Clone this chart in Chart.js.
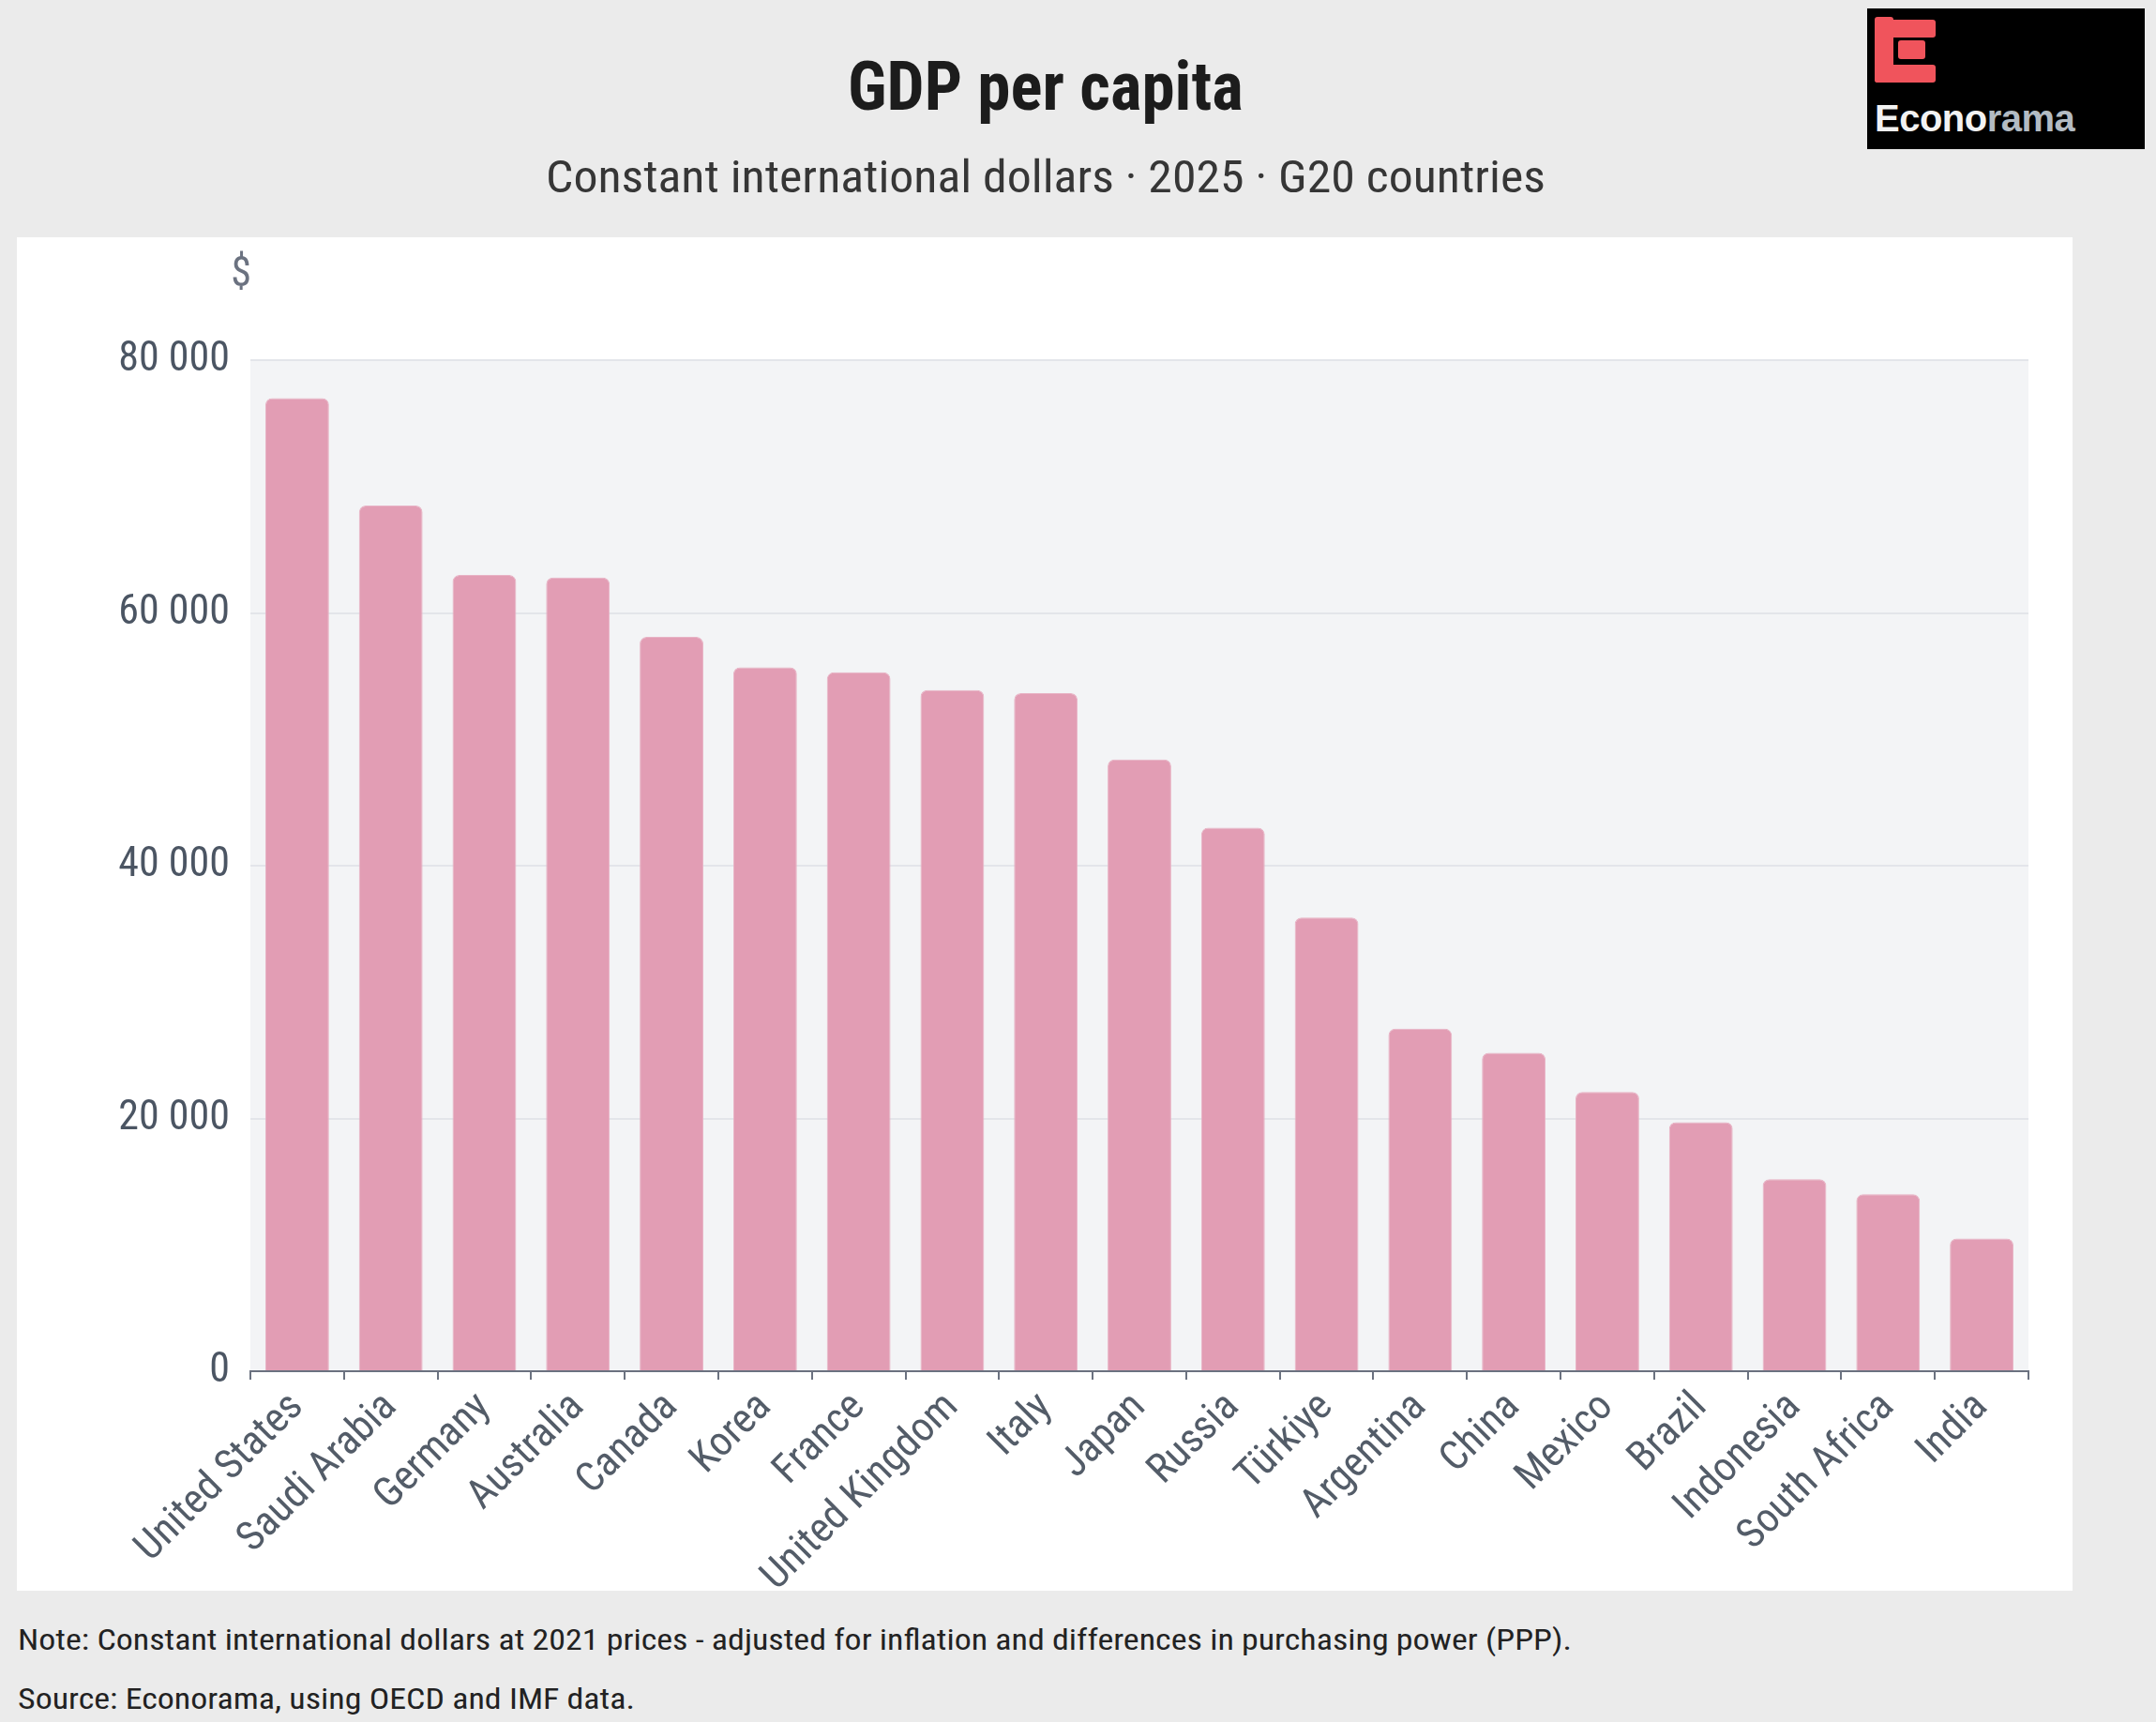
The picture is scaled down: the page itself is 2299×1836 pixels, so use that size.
<!DOCTYPE html>
<html>
<head>
<meta charset="utf-8">
<script src="https://cdn.jsdelivr.net/npm/chart.js@4.4.1/dist/chart.umd.min.js"></script>
<style>
  html, body { margin: 0; padding: 0; background: #ebebeb; }
  body { width: 2299px; height: 1836px; position: relative; overflow: hidden; font-family: "Roboto Condensed", Roboto, "Liberation Sans", sans-serif; }
  .t { position: absolute; white-space: nowrap; line-height: 1; transform-origin: 0 0; }
  #title { font-weight: 700; font-size: 73px; color: #1c1c1c; top: 56px; }
  #subtitle { font-weight: 400; font-size: 48px; color: #363636; top: 165px; }
  #note { font-size: 32px; color: #222; top: 1732px; left: 19px; }
  #source { font-size: 32px; color: #222; top: 1795px; left: 19px; }
  #panel { position: absolute; left: 18px; top: 253px; width: 2192px; height: 1443px; background: #ffffff; }
  #chart { position: absolute; left: 18px; top: 253px; }
  #logo { position: absolute; left: 1991px; top: 9px; width: 296px; height: 150px; background: #000; }
  #logo svg { position: absolute; left: 0; top: 0; }
  #logoText { position: absolute; left: 8px; top: 97px; font-family: "Liberation Sans", Arial, sans-serif; font-weight: 700; font-size: 40px; line-height: 1; letter-spacing: -0.5px; }
</style>
</head>
<body>
<div id="panel"></div>
<canvas id="chart" width="2192" height="1443"></canvas>
<div id="title" class="t">GDP per capita</div>
<div id="subtitle" class="t">Constant international dollars · 2025 · G20 countries</div>
<div id="note" class="t">Note: Constant international dollars at 2021 prices - adjusted for inflation and differences in purchasing power (PPP).</div>
<div id="source" class="t">Source: Econorama, using OECD and IMF data.</div>
<div id="logo">
  <svg width="296" height="150" viewBox="0 0 296 150">
    <g fill="#f0545c">
      <rect x="8" y="9" width="20" height="70" rx="3"/>
      <rect x="24" y="12" width="49" height="19" rx="3"/>
      <rect x="33" y="34" width="29" height="20" rx="3"/>
      <rect x="8" y="60" width="65" height="19" rx="3"/>
    </g>
  </svg>
  <div id="logoText"><span style="color:#f2f2f2">Econo</span><span style="color:#b3bbc3">rama</span></div>
</div>
<script>
// ---- data ----
const countries = ["United States", "Saudi Arabia", "Germany", "Australia", "Canada", "Korea", "France",
  "United Kingdom", "Italy", "Japan", "Russia", "Türkiye", "Argentina", "China", "Mexico", "Brazil",
  "Indonesia", "South Africa", "India"];
const gdpPerCapita = [77000, 68500, 63000, 62800, 58100, 55700, 55300, 53900, 53650, 48400,
  43000, 35900, 27100, 25200, 22100, 19700, 15200, 14000, 10500];
const yMin = 0;
const yMax = 80000;
const yStep = 20000;
const yUnit = "$";

// ---- helpers ----
function hasFont(f) {
  const c = document.createElement('canvas').getContext('2d');
  const s = 'abcdefghijklmnopqrstuvwxyz0123456789ABCDEF';
  c.font = '40px monospace';
  const a = c.measureText(s).width;
  c.font = '40px "' + f + '", monospace';
  const b = c.measureText(s).width;
  return Math.abs(a - b) > 0.5;
}
let tickFamily = 'Roboto';
let tickSize = 37;
if (hasFont('Roboto Condensed')) { tickFamily = 'Roboto Condensed'; tickSize = 44; }
else if (hasFont('Liberation Sans Narrow')) { tickFamily = 'Liberation Sans Narrow'; tickSize = 43; }

function fitText(id, targetW, cx) {
  const el = document.getElementById(id);
  const w = el.offsetWidth;
  const s = targetW / w;
  el.style.transform = 'scaleX(' + s + ')';
  if (cx !== undefined) el.style.left = (cx - targetW / 2) + 'px';
  return s;
}
fitText('title', 422, 1115);
fitText('subtitle', 1066, 1115);
const ns = fitText('note', 1657);
document.getElementById('source').style.transform = 'scaleX(' + ns + ')';

function fmt(v) { return String(v).replace(/\B(?=(\d{3})+(?!\d))/g, ' '); }

const plotBg = {
  id: 'plotBg',
  beforeDraw(chart) {
    const { ctx, chartArea: a } = chart;
    ctx.save();
    ctx.fillStyle = '#f3f4f6';
    ctx.fillRect(a.left, a.top, a.right - a.left, a.bottom - a.top);
    ctx.restore();
  }
};
const unitLabel = {
  id: 'unitLabel',
  afterDraw(chart) {
    const { ctx, chartArea: a } = chart;
    ctx.save();
    ctx.fillStyle = '#6b7280';
    ctx.font = tickSize + 'px "' + tickFamily + '"';
    ctx.textAlign = 'center';
    ctx.textBaseline = 'middle';
    ctx.fillText(yUnit, a.left - 10, a.top - 90);
    ctx.restore();
  }
};

new Chart(document.getElementById('chart'), {
  type: 'bar',
  data: {
    labels: countries,
    datasets: [{
      data: gdpPerCapita,
      backgroundColor: '#e29db4',
      borderColor: '#e8b3c5',
      borderWidth: 1,
      borderRadius: 7,
      borderSkipped: 'start',
      categoryPercentage: 0.68,
      barPercentage: 1
    }]
  },
  options: {
    responsive: false,
    animation: false,
    devicePixelRatio: 1,
    layout: { padding: { top: 131, right: 47, bottom: 0, left: 0 } },
    plugins: { legend: { display: false }, tooltip: { enabled: false } },
    scales: {
      x: {
        grid: { drawOnChartArea: false, drawTicks: true, tickLength: 9, color: '#6b7280', lineWidth: 2 },
        border: { display: true, color: '#6b7280', width: 2 },
        ticks: { autoSkip: false, maxRotation: 45, minRotation: 45, color: '#535c68', padding: 4,
                 font: { family: tickFamily, size: tickSize } },
        afterFit(s) { s.height = 234; }
      },
      y: {
        min: yMin, max: yMax,
        grid: { color: '#e3e5ea', lineWidth: 2, drawTicks: false },
        border: { display: false },
        ticks: { stepSize: yStep, padding: 22, color: '#4b5563',
                 font: { family: tickFamily, size: tickSize },
                 callback: (v) => fmt(v) },
        afterFit(s) { s.width = 249; }
      }
    }
  },
  plugins: [plotBg, unitLabel]
});
</script>
</body>
</html>
